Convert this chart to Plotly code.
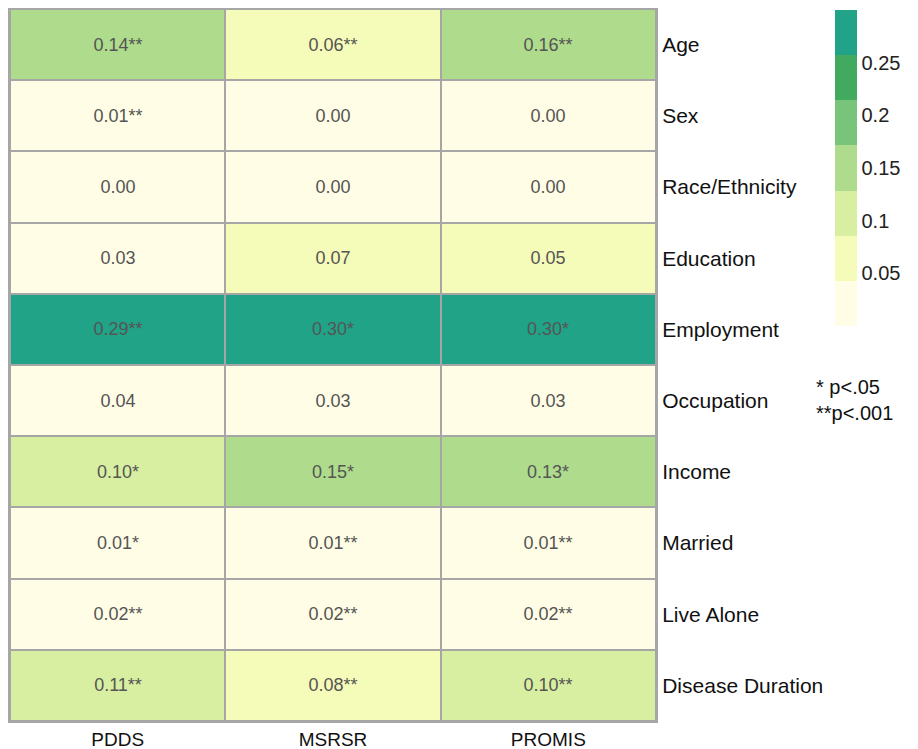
import plotly.graph_objects as go

rows = ["Age", "Sex", "Race/Ethnicity", "Education", "Employment", "Occupation",
        "Income", "Married", "Live Alone", "Disease Duration"]
cols = ["PDDS", "MSRSR", "PROMIS"]

pdds = [0.14, 0.01, 0.00, 0.03, 0.29, 0.04, 0.10, 0.01, 0.02, 0.11]
msrsr = [0.06, 0.00, 0.00, 0.07, 0.30, 0.03, 0.15, 0.01, 0.02, 0.08]
promis = [0.16, 0.00, 0.00, 0.05, 0.30, 0.03, 0.13, 0.01, 0.02, 0.10]

pdds_sig = ["**", "**", "", "", "**", "", "*", "*", "**", "**"]
msrsr_sig = ["**", "", "", "", "*", "", "*", "**", "**", "**"]
promis_sig = ["**", "", "", "", "*", "", "*", "**", "**", "**"]

colorbar_ticks = [0.05, 0.1, 0.15, 0.2, 0.25]

bin_colors = ["#FFFDE5", "#F5FBB8", "#D8EFA1", "#AEDB8C", "#78C47B", "#41AA5E", "#20A387"]

series = [pdds, msrsr, promis]
sigs = [pdds_sig, msrsr_sig, promis_sig]

z = [[series[c][r] for c in range(3)] for r in range(len(rows))]
text = [["%.2f%s" % (series[c][r], sigs[c][r]) for c in range(3)] for r in range(len(rows))]

n = len(bin_colors)
cs = []
for i, col in enumerate(bin_colors):
    cs.append([i / n, col])
    cs.append([(i + 1) / n, col])

FONT = "Liberation Sans, Arial"

# page body has an 8px margin; figure is sized to fit the window
OFF = 8
W, H = 918 - OFF, 749 - OFF
L, T = 10 - OFF, 9 - OFF
R = W - (656 - OFF)
B = H - (721 - OFF)

def px_x(x):
    return (x - OFF - L) / (W - L - R)

def px_y(y):
    return 1 - (y - OFF - T) / (H - T - B)

fig = go.Figure(go.Heatmap(
    z=z, x=cols, y=rows, text=text, texttemplate="%{text}",
    textfont=dict(size=18, color="#555555", family=FONT),
    colorscale=cs, zmin=0, zmax=0.30, xgap=2, ygap=2,
    colorbar=dict(
        tickvals=colorbar_ticks, ticktext=["0.05", "0.1", "0.15", "0.2", "0.25"],
        ticks="", outlinewidth=0, thickness=22, len=316, lenmode="pixels",
        xpad=0, ypad=0,
        x=(835 - OFF) / W, xref="container", xanchor="left",
        y=1 - (10 - OFF) / H, yref="container", yanchor="top",
        tickfont=dict(size=20, color="#222222", family=FONT),
    ),
))

fig.update_layout(
    width=W, height=H,
    margin=dict(l=L, r=R, t=T, b=B, autoexpand=False),
    paper_bgcolor="white", plot_bgcolor="#A6A6A6",
    font=dict(family=FONT, size=21, color="#111111"),
    xaxis=dict(side="bottom", showgrid=False, zeroline=False, ticks="",
               showline=True, mirror=True, linecolor="#A6A6A6", linewidth=2,
               tickfont=dict(size=19)),
    yaxis=dict(side="right", autorange="reversed", showgrid=False, zeroline=False, ticks="",
               showline=True, mirror=True, linecolor="#A6A6A6", linewidth=2,
               tickfont=dict(size=21)),
    annotations=[
        dict(text="* p<.05<br>**p<.001", x=px_x(814), y=px_y(400),
             xref="paper", yref="paper",
             showarrow=False, align="left", xanchor="left", yanchor="middle",
             font=dict(size=20, color="#111111")),
    ],
)

fig.write_html("out.html")
